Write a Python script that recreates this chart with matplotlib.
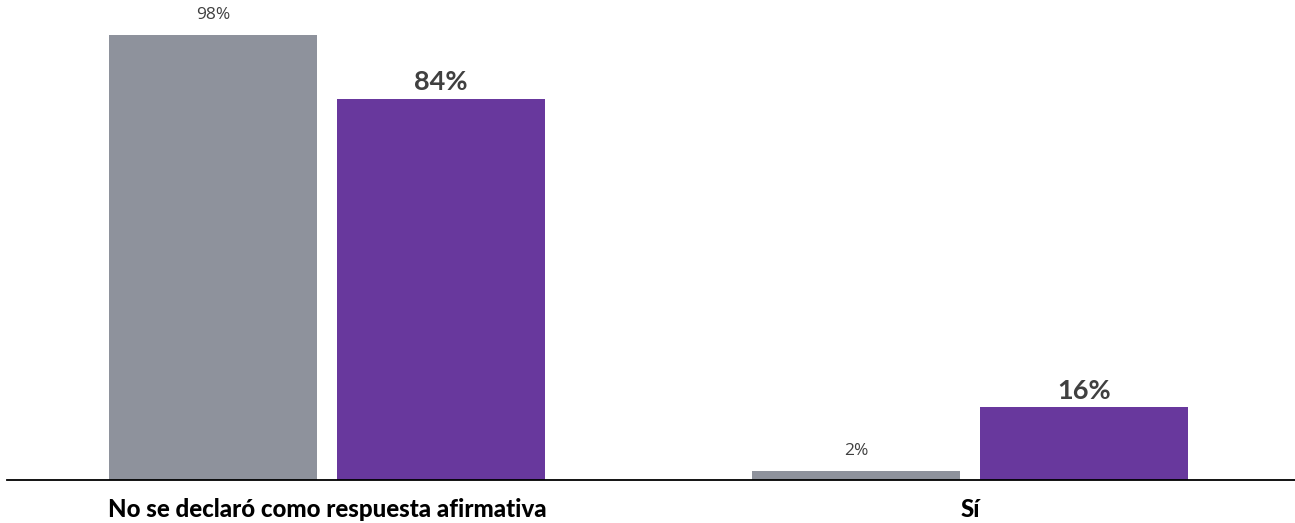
import matplotlib.pyplot as plt
import numpy as np

categories = ["No se declaró como respuesta afirmativa", "Sí"]
gray_values = [98, 2]
purple_values = [84, 16]
gray_labels = ["98%", "2%"]
purple_labels = ["84%", "16%"]

fig = plt.figure(figsize=(12.95, 5.23), dpi=100)
ax = fig.add_axes([7 / 1295, 43 / 523, 1288 / 1295, 480 / 523])

x = np.arange(len(categories))
w = 0.3235
off = 0.1773
b1 = ax.bar(x - off, gray_values, w, color="#8e929c")
b2 = ax.bar(x + off, purple_values, w, color="#68389d")

for rect, lab in zip(b1, gray_labels):
    ax.text(rect.get_x() + rect.get_width() / 2, rect.get_height() + 2.6, lab,
            ha="center", va="bottom", fontsize=12.5, color="#404040",
            family="Open Sans")
for rect, lab in zip(b2, purple_labels):
    ax.text(rect.get_x() + rect.get_width() / 2, rect.get_height() + 1.0, lab,
            ha="center", va="bottom", fontsize=19.5, color="#404040",
            family="Lato", fontweight="bold")

ax.set_xlim(-0.4977, 1.5054)
ax.set_ylim(0, 105.7)
ax.set_xticks(x)
ax.set_xticklabels(categories, family="Lato", fontweight="black", fontsize=17.3,
                   color="black")
ax.tick_params(axis="x", length=0, pad=13)
ax.set_yticks([])
for s in ["top", "right", "left"]:
    ax.spines[s].set_visible(False)
ax.spines["bottom"].set_linewidth(1.3)
ax.spines["bottom"].set_color("black")

fig.savefig("out.png", dpi=100)
